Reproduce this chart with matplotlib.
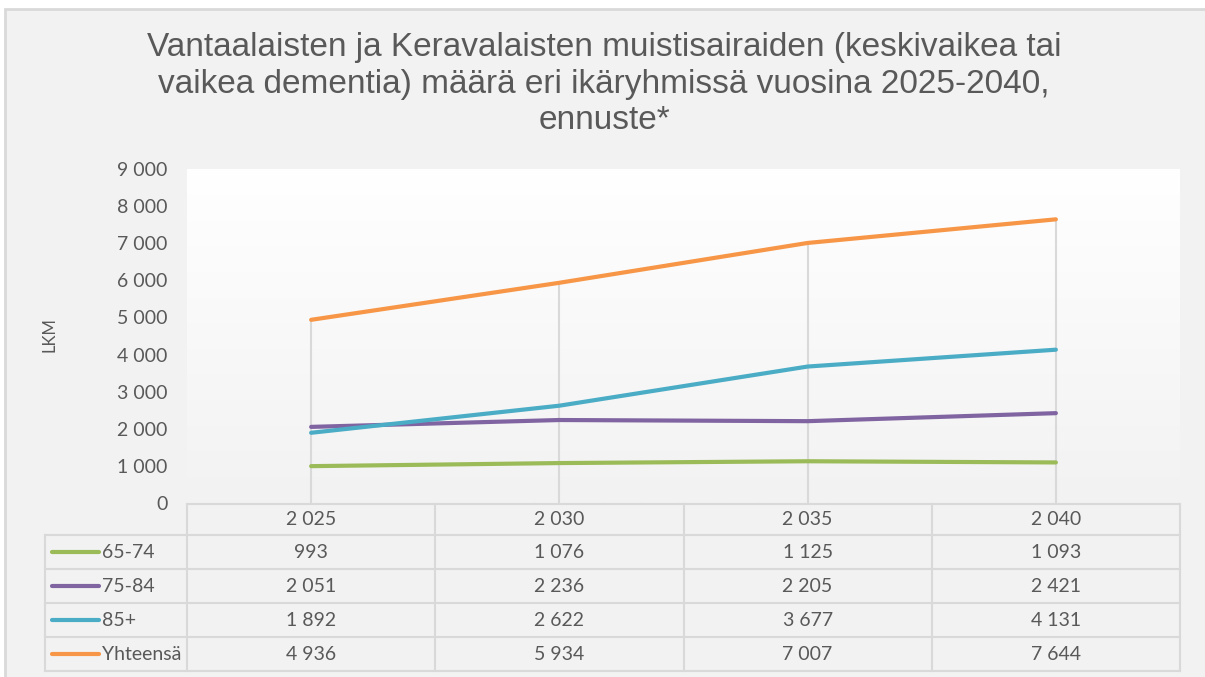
import numpy as np
import matplotlib
matplotlib.use('Agg')
import matplotlib.pyplot as plt
from matplotlib.lines import Line2D
from matplotlib.patches import Rectangle
from matplotlib.colors import LinearSegmentedColormap
from matplotlib.transforms import blended_transform_factory

# Data
years = [2025, 2030, 2035, 2040]
series_names = ['65-74', '75-84', '85+', 'Yhteensä']
v_65_74 = [993, 1076, 1125, 1093]
v_75_84 = [2051, 2236, 2205, 2421]
v_85 = [1892, 2622, 3677, 4131]
v_total = [4936, 5934, 7007, 7644]
series_values = [v_65_74, v_75_84, v_85, v_total]
colors = ['#9bbb59', '#8064a2', '#4bacc6', '#f79646']
yticks = list(range(0, 9001, 1000))
title = ('Vantaalaisten ja Keravalaisten muistisairaiden (keskivaikea tai\n'
         'vaikea dementia) määrä eri ikäryhmissä vuosina 2025-2040,\n'
         'ennuste*')

TXT = '#595959'
GRID = '#d9d9d9'
BG = '#f2f2f2'
W, H = 1205, 677
FONT = ['Lato', 'DejaVu Sans']
TITLE_FONT = ['Liberation Sans', 'DejaVu Sans']


def fmt(v):
    return f'{v:,}'.replace(',', ' ')


def fy(py):
    # pixel row from top -> figure fraction
    return 1 - py / H


fig = plt.figure(figsize=(W / 100, H / 100), dpi=100)
fig.patch.set_facecolor('white')
fig.patches.append(Rectangle((5 / W, -0.05), 1, fy(9) + 0.05, transform=fig.transFigure,
                             facecolor=BG, edgecolor=GRID, lw=2, zorder=-5))

ax = fig.add_axes([187 / W, fy(503), (1180 - 187) / W, (503 - 169) / H])
ax.patch.set_alpha(0)
grad = np.linspace(0, 1, 256).reshape(-1, 1)
ax.imshow(grad, extent=[0, 1, 0, 1], transform=ax.transAxes, aspect='auto',
          cmap=LinearSegmentedColormap.from_list('bg', ['white', BG]), zorder=0)

x = np.arange(len(years))
ax.vlines(x, 0, np.max(series_values, axis=0), color=GRID, lw=1.5, zorder=1)
for vals, c in zip(series_values, colors):
    ax.plot(x, vals, color=c, lw=3, solid_capstyle='round', zorder=3)

ax.set_xlim(-0.5, len(years) - 0.5)
ax.set_ylim(0, 9000)
ax.set_xticks([])
ax.set_yticks(yticks)
ax.set_yticklabels([fmt(t) for t in yticks], color=TXT, fontsize=14, family=FONT)
ax.tick_params(axis='y', length=0, pad=14)
for s in ax.spines.values():
    s.set_visible(False)

fig.text(49 / W, fy(335), 'LKM', rotation=90, ha='center', va='center',
         color=TXT, fontsize=12, family=FONT)

fig.text(604 / W, fy(84), title, ha='center', va='center', color=TXT,
         fontsize=24, linespacing=1.22, family=TITLE_FONT)

# data table under the plot
trans = blended_transform_factory(ax.transData, fig.transFigure)
row_edges = [504, 535, 569, 603, 637, 671]
left_px = 45
x0 = ax.get_position().x0
x1 = ax.get_position().x1
lw_t = 1.5

# horizontal lines
fig.add_artist(Line2D([x0, x1], [fy(row_edges[0])] * 2, color=GRID, lw=lw_t,
                      transform=fig.transFigure))
for r in row_edges[1:]:
    fig.add_artist(Line2D([left_px / W, x1], [fy(r)] * 2, color=GRID, lw=lw_t,
                          transform=fig.transFigure))
# vertical lines
for k in range(len(years) + 1):
    fig.add_artist(Line2D([k - 0.5] * 2, [fy(row_edges[0]), fy(row_edges[-1])],
                          color=GRID, lw=lw_t, transform=trans))
fig.add_artist(Line2D([left_px / W] * 2, [fy(row_edges[1]), fy(row_edges[-1])],
                      color=GRID, lw=lw_t, transform=fig.transFigure))

# header
hy = fy((row_edges[0] + row_edges[1]) / 2)
for i, yr in enumerate(years):
    fig.text(i, hy, fmt(yr), transform=trans, ha='center', va='center',
             color=TXT, fontsize=14, family=FONT)

# rows
for j, (name, vals, c) in enumerate(zip(series_names, series_values, colors)):
    cy = fy((row_edges[j + 1] + row_edges[j + 2]) / 2)
    fig.add_artist(Line2D([52 / W, 99 / W], [cy, cy], color=c, lw=3,
                          solid_capstyle='round', transform=fig.transFigure))
    fig.text(102 / W, cy, name, ha='left', va='center', color=TXT,
             fontsize=14, family=FONT)
    for i, v in enumerate(vals):
        fig.text(i, cy, fmt(v), transform=trans, ha='center', va='center',
                 color=TXT, fontsize=14, family=FONT)

fig.savefig('out.png', dpi=100, facecolor=fig.get_facecolor())
